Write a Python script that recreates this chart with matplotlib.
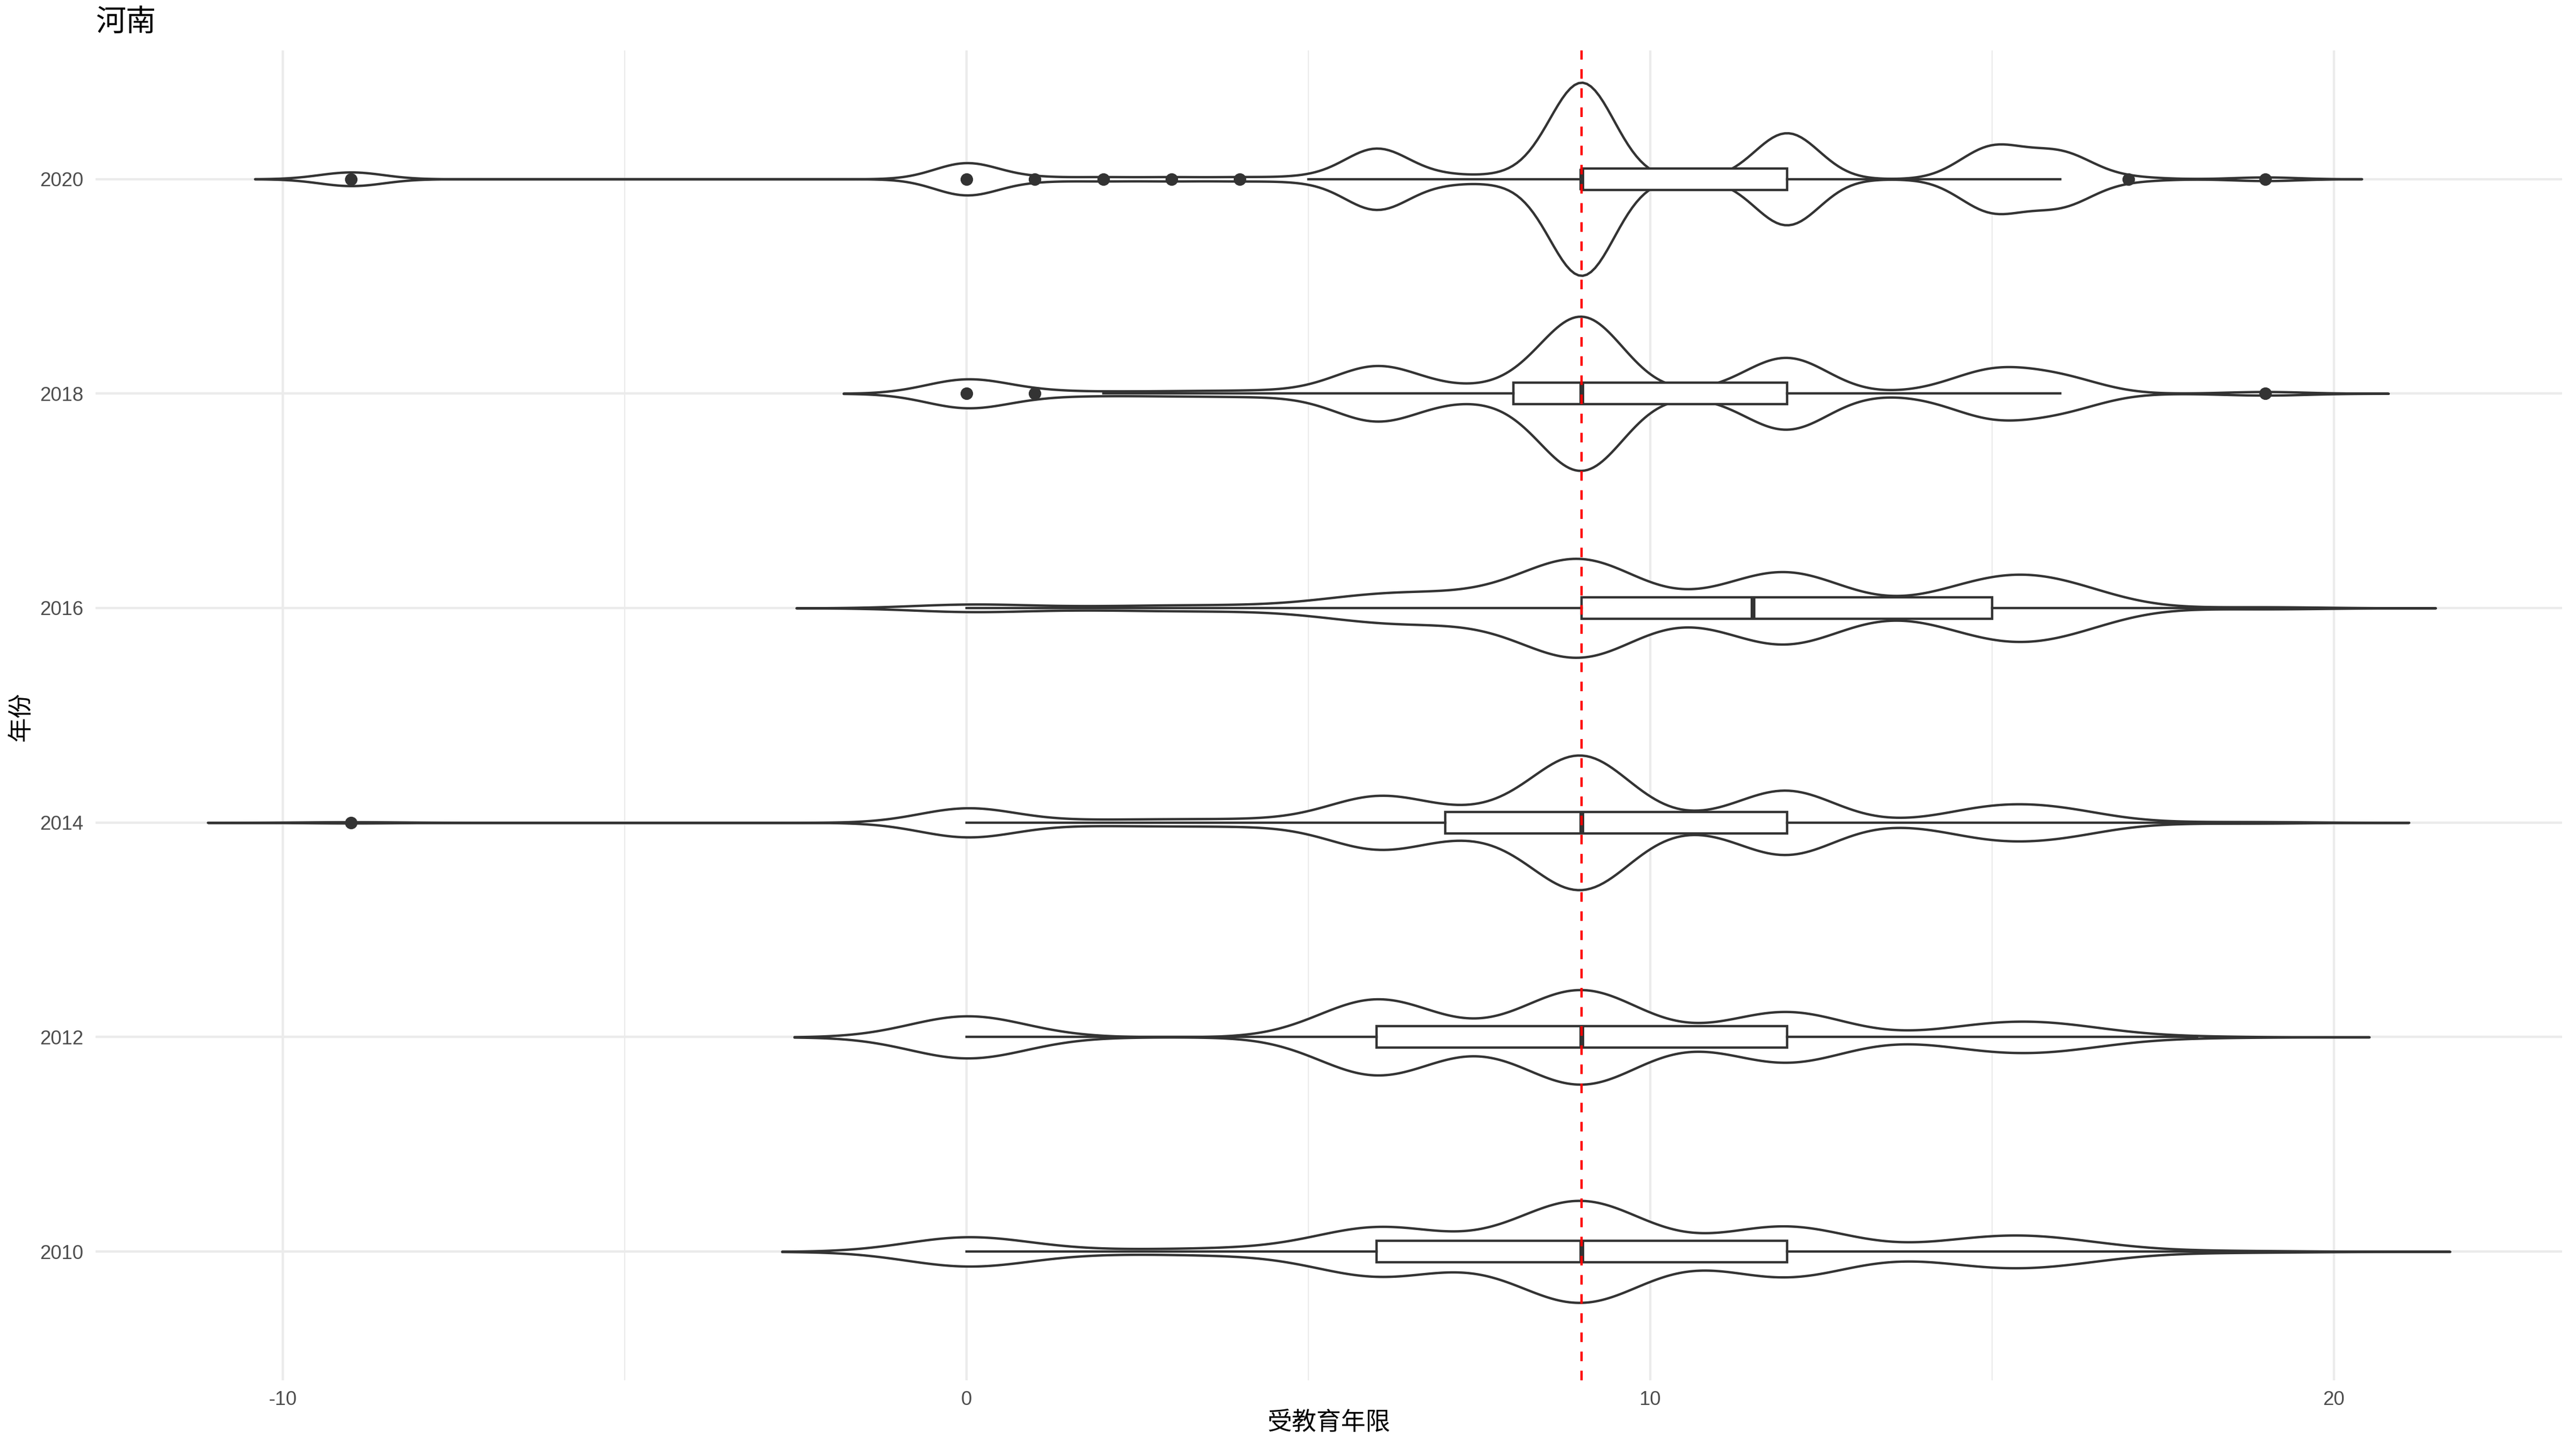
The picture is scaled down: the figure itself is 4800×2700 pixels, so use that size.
import numpy as np
import matplotlib
matplotlib.use("Agg")
import matplotlib.pyplot as plt

plt.rcParams['font.family'] = ['Liberation Sans', 'Noto Sans CJK SC', 'DejaVu Sans']

# ---------------- data ----------------
years = ['2010', '2012', '2014', '2016', '2018', '2020']

# years of schooling (受教育年限) and number of respondents at each level
edu_2010 = [0, 1, 2, 3, 4, 5, 6, 7, 8, 9, 10, 11, 12, 13, 14, 15, 16, 17, 18, 19]
cnt_2010 = [59, 4, 4, 5, 9, 4, 94, 11, 14, 203, 2, 9, 99, 3, 5, 45, 32, 3, 2, 2]

edu_2012 = [0, 1, 6, 7, 8, 9, 11, 12, 14, 15, 16, 17, 18]
cnt_2012 = [81, 3, 147, 3, 7, 181, 4, 97, 3, 38, 34, 3, 2]

edu_2014 = [-9, 0, 1, 2, 3, 4, 5, 6, 7, 8, 9, 10, 11, 12, 14, 15, 16, 17, 18, 19]
cnt_2014 = [2, 46, 4, 6, 7, 7, 8, 77, 21, 25, 208, 6, 8, 102, 4, 42, 35, 3, 1, 2]

edu_2016 = [0, 1, 2, 3, 4, 5, 6, 7, 8, 9, 11, 12, 14, 15, 16, 19]
cnt_2016 = [13, 3, 3, 7, 5, 8, 37, 29, 25, 176, 17, 131, 7, 83, 71, 4]

edu_2018 = [0, 1, 2, 3, 4, 5, 6, 7, 8, 9, 11, 12, 14, 15, 16, 19]
cnt_2018 = [39, 6, 4, 5, 6, 7, 73, 12, 15, 212, 6, 99, 5, 60, 42, 5]

edu_2020 = [-9, 0, 1, 2, 3, 4, 5, 6, 7, 8, 9, 12, 15, 16, 17, 19]
cnt_2020 = [15, 35, 4, 4, 4, 4, 5, 66, 8, 8, 211, 101, 69, 56, 4, 4]

bandwidth = [0.9, 0.84, 0.7, 0.83, 0.6, 0.47]

# box-plot summaries
box_q1 = [6, 6, 7, 9, 8, 9]
box_med = [9, 9, 9, 11.5, 9, 9]
box_q3 = [12, 12, 12, 15, 12, 12]
box_lo = [0, 0, 0, 0, 2, 5]
box_hi = [19, 18, 19, 19, 16, 16]
box_out = [[], [], [-9], [], [0, 1, 19], [-9, 0, 1, 2, 3, 4, 17, 19]]

ref_value = 9
x_ticks = [-10, 0, 10, 20]

edu_vals = [edu_2010, edu_2012, edu_2014, edu_2016, edu_2018, edu_2020]
edu_cnts = [cnt_2010, cnt_2012, cnt_2014, cnt_2016, cnt_2018, cnt_2020]

# ---------------- helpers ----------------
def kde(values, counts, h, grid):
    v = np.asarray(values, float)[:, None]
    c = np.asarray(counts, float)[:, None]
    z = (grid[None, :] - v) / h
    return (c * np.exp(-0.5 * z ** 2)).sum(0) / (h * np.sqrt(2 * np.pi))

INK = '#333333'
LW = 1.07

fig = plt.figure(figsize=(16, 9), dpi=300)
ax = fig.add_axes([0.0371, 0.0474, 0.9946 - 0.0371, 0.9653 - 0.0474])

positions = np.arange(1, len(years) + 1)

grids, dens = [], []
for vals, cnts, h in zip(edu_vals, edu_cnts, bandwidth):
    g = np.linspace(min(vals) - 3 * h, max(vals) + 3 * h, 512)
    grids.append(g)
    dens.append(kde(vals, cnts, h, g))
dmax = max(d.max() for d in dens)

for pos, g, d in zip(positions, grids, dens):
    hw = 0.45 * d / dmax
    ax.fill_between(g, pos - hw, pos + hw, facecolor='white', edgecolor=INK,
                    linewidth=LW, zorder=2)

stats = []
for i, yr in enumerate(years):
    stats.append(dict(label=yr, q1=box_q1[i], med=box_med[i], q3=box_q3[i],
                      whislo=box_lo[i], whishi=box_hi[i], fliers=box_out[i]))

bxp_kw = dict(positions=positions, widths=0.1, patch_artist=True, showcaps=False,
              manage_ticks=False, zorder=3,
              boxprops=dict(facecolor='white', edgecolor=INK, linewidth=LW),
              whiskerprops=dict(color=INK, linewidth=LW),
              medianprops=dict(color=INK, linewidth=2 * LW, solid_capstyle='butt'),
              flierprops=dict(marker='o', markerfacecolor=INK, markeredgecolor=INK,
                              markersize=4.6, linestyle='none'))
try:
    ax.bxp(stats, orientation='horizontal', **bxp_kw)
except TypeError:
    ax.bxp(stats, vert=False, **bxp_kw)

ax.axvline(ref_value, color='red', linewidth=LW, linestyle=(0, (4, 4)), zorder=4)

# limits (ggplot-like 5% expansion of the violin extents)
lo = min(g[0] for g in grids)
hi = max(g[-1] for g in grids)
span = hi - lo
ax.set_xlim(lo - 0.05 * span, hi + 0.05 * span)
ax.set_ylim(0.4, len(years) + 0.6)

ax.set_xticks(x_ticks)
ax.set_xticklabels([str(t) for t in x_ticks])
ax.set_xticks([-5, 5, 15], minor=True)
ax.set_yticks(positions)
ax.set_yticklabels(years)

ax.set_axisbelow(True)
ax.grid(which='major', color='#EBEBEB', linewidth=LW)
ax.grid(which='minor', axis='x', color='#EBEBEB', linewidth=LW / 2)
ax.tick_params(which='both', length=0)
ax.tick_params(axis='x', which='major', pad=4.5, labelsize=8.8, labelcolor='#4D4D4D')
ax.tick_params(axis='y', which='major', pad=5.5, labelsize=8.8, labelcolor='#4D4D4D')
for s in ax.spines.values():
    s.set_visible(False)

fig.text(0.0371, 1 - 44 / 2700, '河南', fontsize=13.5, ha='left', va='center', color='black')
fig.text((0.0371 + 0.9946) / 2, 1 - 2652 / 2700, '受教育年限', fontsize=11,
         ha='center', va='center', color='black')
fig.text(39.5 / 4800, 1 - 1335 / 2700, '年份', fontsize=11, rotation=90,
         ha='center', va='center', color='black')

fig.savefig('out.png', dpi=300, facecolor='white')
